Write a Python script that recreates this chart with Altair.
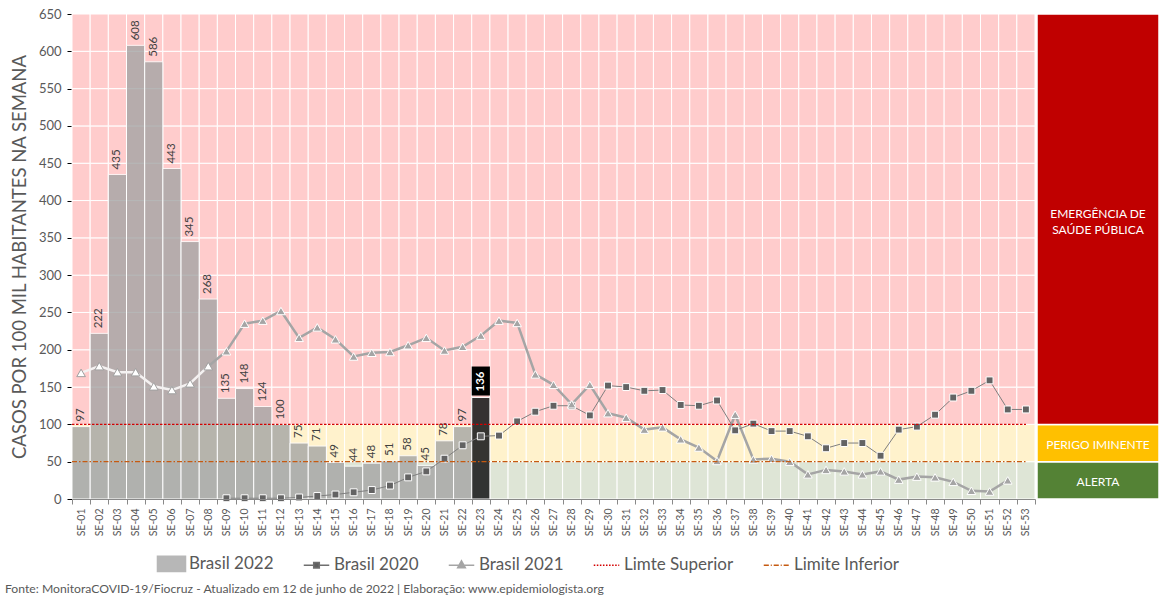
import altair as alt
import pandas as pd

# ---------------- data ----------------
weeks = [f"SE-{i:02d}" for i in range(1, 54)]

brasil_2022 = [97, 222, 435, 608, 586, 443, 345, 268, 135, 148, 124, 100, 75, 71,
               49, 44, 48, 51, 58, 45, 78, 97, 136]
brasil_2020 = [None] * 8 + [1, 1, 1, 1, 2, 4, 6, 9, 12, 18, 29, 37, 54, 72, 84, 85,
                            104, 117, 125, 125, 112, 152, 150, 145, 146, 126, 125, 132,
                            92, 101, 91, 91, 84, 68, 75, 75, 58, 93, 97, 113, 136, 145,
                            159, 120, 120]
brasil_2021 = [169, 178, 170, 170, 151, 146, 155, 178, 198, 235, 239, 252, 216, 230,
               214, 191, 196, 197, 206, 216, 199, 204, 219, 239, 236, 167, 153, 127,
               153, 115, 109, 93, 96, 80, 69, 51, 113, 53, 54, 50, 33, 39, 37, 33, 37,
               26, 30, 29, 23, 11, 10, 25, None]

current_week = "SE-23"
hollow_until = "SE-08"

limite_superior = 100
limite_inferior = 50

y_ticks = [0, 50, 100, 150, 200, 250, 300, 350, 400, 450, 500, 550, 600, 650]
zone_bounds = [0, 50, 100, 650]
zone_labels = ["ALERTA", "PERIGO IMINENTE", "EMERGÊNCIA DE\nSAÚDE PÚBLICA"]
zone_bg = ["#DEE5D6", "#FFF2CC", "#FFCCCC"]
zone_panel = ["#548235", "#FFC000", "#C00000"]

legend_names = ["Brasil 2022", "Brasil 2020", "Brasil 2021", "Limte Superior", "Limite Inferior"]
legend_fill = ["#B7B7B7", "#5F5F5F", "#A5A5A5", "transparent", "transparent"]
legend_stroke = ["#B7B7B7", "#6F6F6F", "#A5A5A5", "#D40000", "#C55A11"]
legend_shapes = [
    "M-1.1,-0.6H1.1V0.6H-1.1Z",
    "M-1,0H-0.22M0.22,0H1M-0.22,-0.22H0.22V0.22H-0.22Z",
    "M-1,0H1M0,-0.34L0.3,0.2H-0.3Z",
    "M-1,0H-0.88M-0.76,0H-0.64M-0.52,0H-0.4M-0.28,0H-0.16M-0.04,0H0.08M0.2,0H0.32M0.44,0H0.56M0.68,0H0.8M0.92,0H1",
    "M-1,0H-0.6M-0.45,0H-0.37M-0.22,0H0.18M0.33,0H0.41M0.56,0H0.96",
]

source = ("Fonte: MonitoraCOVID-19/Fiocruz - Atualizado em 12 de junho de 2022 | "
          "Elaboração: www.epidemiologista.org")

# ---------------- tables ----------------
n = len(weeks)
df = pd.DataFrame({
    "week": weeks,
    "v2022": brasil_2022 + [None] * (n - len(brasil_2022)),
    "v2020": brasil_2020,
    "v2021": brasil_2021,
})
hollow_idx = weeks.index(hollow_until)
df["idx"] = range(n)

cells = []
for w in weeks:
    for lo, hi in zip(y_ticks[:-1], y_ticks[1:]):
        z = sum(1 for b in zone_bounds[1:-1] if lo >= b)
        cells.append({"week": w, "lo": lo, "hi": hi, "c": zone_bg[z]})
cells = pd.DataFrame(cells)

zones = pd.DataFrame({
    "lo": zone_bounds[:-1],
    "hi": zone_bounds[1:],
    "c": zone_panel,
    "label": zone_labels,
})

W, H = 963, 485
FONT = "Lato"
GRAY_TXT = "#595959"

X = alt.X("week:N", sort=weeks,
          scale=alt.Scale(domain=weeks, paddingInner=0, paddingOuter=0),
          axis=alt.Axis(title=None, labelAngle=270, labelFontSize=10.5, labelColor=GRAY_TXT,
                        labelFont=FONT, domainColor="#898989", tickColor="#898989",
                        tickSize=5, tickBand="extent", grid=False, labelPadding=4))
YS = alt.Scale(domain=[0, 650], nice=False, zero=True)
Y_AXIS = alt.Axis(values=y_ticks, title="CASOS POR 100 MIL HABITANTES NA SEMANA",
                  titleFontSize=18.5, titleColor=GRAY_TXT, titleFontWeight="normal",
                  titleFont=FONT, labelFont=FONT, labelFontSize=13, labelColor=GRAY_TXT,
                  domainColor="black", tickColor="black", tickSize=5, grid=False,
                  labelPadding=6, titlePadding=9, labelOverlap=False)


def Yq(field):
    return alt.Y(field, scale=YS, axis=Y_AXIS)


# background cells (zones + white grid)
bg = alt.Chart(cells).mark_rect(stroke="white", strokeWidth=1).encode(
    x=X,
    y=Yq("lo:Q"),
    y2="hi:Q",
    color=alt.Color("c:N", scale=None),
)

is_cur = f"datum.week == '{current_week}'"
bars = alt.Chart(df).transform_filter("isValid(datum.v2022)").mark_bar(
    stroke="white", strokeWidth=1
).encode(
    x=X,
    y=Yq("v2022:Q"),
    color=alt.condition(is_cur, alt.value("#262626"), alt.value("#A5A5A5")),
    opacity=alt.condition(is_cur, alt.value(0.93), alt.value(0.8)),
)

bar_labels = alt.Chart(df).transform_filter(
    f"isValid(datum.v2022) && datum.week != '{current_week}'"
).mark_text(angle=270, align="left", baseline="middle", dx=5, fontSize=11.5,
            font=FONT, color="#404040").encode(
    x=X, y=Yq("v2022:Q"), text="v2022:Q")

cur_box = alt.Chart(df).transform_filter(is_cur).mark_rect(
    color="black", yOffset=-2, y2Offset=-31
).encode(x=X, y=Yq("v2022:Q"), y2="v2022:Q")
cur_label = alt.Chart(df).transform_filter(is_cur).mark_text(
    angle=270, align="left", baseline="middle", dx=6, fontSize=11.5, font=FONT,
    fontWeight="bold", color="white"
).encode(x=X, y=Yq("v2022:Q"), text="v2022:Q")

# 2020 line
d20 = alt.Chart(df).transform_filter("isValid(datum.v2020)")
line20 = d20.mark_line(color="#7F7F7F", strokeWidth=1).encode(
    x=X, y=Yq("v2020:Q"))
pts20 = d20.mark_point(shape="square", filled=True, fill="#636363", stroke="white",
                       strokeWidth=1, size=48, opacity=1).encode(
    x=X, y=Yq("v2020:Q"))

# 2021 line
d21 = alt.Chart(df).transform_filter("isValid(datum.v2021)")
line21_out = d21.transform_filter(f"datum.idx >= {hollow_idx}").mark_line(
    color="#A5A5A5", strokeWidth=2.5).encode(x=X, y=Yq("v2021:Q"))
line21_in = d21.transform_filter(f"datum.idx <= {hollow_idx}").mark_line(
    color="#F4F1F1", strokeWidth=2.5).encode(x=X, y=Yq("v2021:Q"))
pts21_out = d21.transform_filter(f"datum.idx > {hollow_idx}").mark_point(
    shape="triangle-up", filled=True, fill="#A5A5A5", stroke="white", strokeWidth=1,
    size=75, opacity=1).encode(x=X, y=Yq("v2021:Q"))
pts21_in = d21.transform_filter(f"datum.idx <= {hollow_idx}").mark_point(
    shape="triangle-up", filled=True, fill="white", stroke="#A0A0A0", strokeWidth=1,
    size=75, opacity=1).encode(x=X, y=Yq("v2021:Q"))

# limits
lim_sup = alt.Chart(pd.DataFrame({"v": [limite_superior]})).mark_rule(
    color="#D40000", strokeWidth=1.3, strokeDash=[2.5, 1.5]
).encode(y=Yq("v:Q"), x=alt.value(0), x2=alt.value(W - 9))
lim_inf = alt.Chart(pd.DataFrame({"v": [limite_inferior]})).mark_rule(
    color="#C55A11", strokeWidth=1.2, strokeDash=[5, 2, 1.5, 2]
).encode(y=Yq("v:Q"), x=alt.value(0), x2=alt.value(W - 9))

# right panel
panel = alt.Chart(zones).mark_rect(stroke="white", strokeWidth=1.5).encode(
    x=alt.value(W + 2), x2=alt.value(W + 124),
    y=Yq("lo:Q"), y2="hi:Q",
    color=alt.Color("c:N", scale=None),
)
ptxt = alt.Chart(zones).transform_calculate(mid="(datum.lo + datum.hi) / 2")
panel_text_1 = ptxt.transform_filter("indexof(datum.label, '\\n') < 0").mark_text(
    color="white", fontSize=12, font=FONT, dy=2, align="center", baseline="middle"
).encode(x=alt.value(W + 63), y=Yq("mid:Q"), text="label:N")
panel_text_2 = ptxt.transform_filter("indexof(datum.label, '\\n') >= 0").mark_text(
    color="white", fontSize=12, font=FONT, lineBreak="\n", dy=-5, lineHeight=16,
    align="center", baseline="middle"
).encode(x=alt.value(W + 63), y=Yq("mid:Q"), text="label:N")

# legend (library legend driven by the series names)
LEG = alt.Legend(orient="none", legendX=86, legendY=536, direction="horizontal",
                 title=None, symbolSize=650, symbolStrokeWidth=1.5, labelFontSize=17,
                 labelColor=GRAY_TXT, labelFont=FONT, columnPadding=26, labelOffset=4,
                 symbolOpacity=1)
legend_layer = alt.Chart(pd.DataFrame({"series": legend_names})).transform_filter(
    "false").mark_point(filled=True, opacity=1).encode(
    fill=alt.Fill("series:N", scale=alt.Scale(domain=legend_names, range=legend_fill), legend=LEG),
    stroke=alt.Stroke("series:N", scale=alt.Scale(domain=legend_names, range=legend_stroke), legend=LEG),
    shape=alt.Shape("series:N", scale=alt.Scale(domain=legend_names, range=legend_shapes), legend=LEG),
)

src = alt.Chart(pd.DataFrame({"t": [source]})).mark_text(
    align="left", baseline="middle", fontSize=12.2, font=FONT, color=GRAY_TXT
).encode(x=alt.value(-67), y=alt.value(H + 90), text="t:N")

chart = alt.layer(
    bg, bars, bar_labels, cur_box, cur_label,
    line21_out, line21_in, line20, pts20, pts21_out, pts21_in,
    lim_sup, lim_inf, panel, panel_text_1, panel_text_2, legend_layer, src,
).properties(
    width=W, height=H,
    padding={"left": 5, "top": 8, "right": 3, "bottom": 2},
    background="white",
).configure_view(stroke=None)

chart.save("out.html", embed_options={"renderer": "svg", "actions": False})
